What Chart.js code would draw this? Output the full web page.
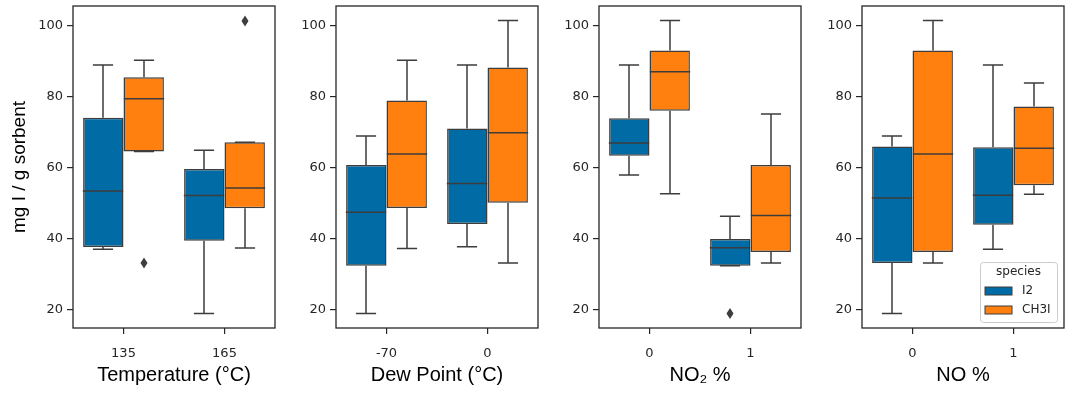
<!DOCTYPE html>
<html>
<head>
<meta charset="utf-8">
<script src="https://cdn.jsdelivr.net/npm/chart.js@4.4.0/dist/chart.umd.min.js"></script>
<style>
  html, body { margin: 0; padding: 0; background: #fff; }
  #wrap { position: relative; width: 1072px; height: 393px; overflow: hidden; }
  .panel { position: absolute; top: 0; }
</style>
</head>
<body>
<div id="wrap"></div>
<script>
// species (hue) and the four factors
const species = ["I2", "CH3I"];
const factorTitles = ["Temperature (°C)", "Dew Point (°C)", "NO₂ %", "NO %"];
const factorLevels = [["135", "165"], ["-70", "0"], ["0", "1"], ["0", "1"]];

// box stats per panel and level: [lower whisker, q1, median, q3, upper whisker]
const i2Box = [
  [[37.1, 37.7, 53.5, 74.1, 89.0], [19.0, 39.5, 52.2, 59.7, 65.0]],
  [[19.0, 32.4, 47.5, 60.8, 69.0], [37.8, 44.2, 55.6, 71.1, 89.0]],
  [[58.0, 63.4, 67.0, 74.0, 89.0], [32.4, 32.4, 37.5, 40.0, 46.4]],
  [[19.0, 33.2, 51.5, 66.0, 69.0], [37.1, 44.0, 52.3, 65.8, 89.0]]
];
const ch3iBox = [
  [[64.6, 64.6, 79.5, 85.5, 90.3], [37.4, 48.6, 54.3, 67.2, 67.2]],
  [[37.3, 48.7, 63.9, 79.0, 90.3], [33.2, 50.2, 69.9, 88.3, 101.5]],
  [[52.7, 76.1, 87.1, 93.1, 101.5], [33.2, 36.3, 46.6, 60.8, 75.2]],
  [[33.2, 36.3, 63.9, 93.1, 101.5], [52.6, 55.1, 65.5, 77.3, 83.9]]
];
// fliers per panel and level
const i2Fliers = [[[], []], [[], []], [[], [19.0]], [[], []]];
const ch3iFliers = [[[33.2], [101.4]], [[], []], [[], []], [[], []]];

const yTicks = [20, 40, 60, 80, 100];
const yMin = 14.9, yMax = 105.6;

const colors = ["#006BA4", "#FF800E"];
const edge = "#3d3d3d";
const ink = "#262626";
const tickFont = { family: "DejaVu Sans", size: 13 };
const titleFont = { family: "Liberation Sans", size: 20 };

// boxes are floating bars, whiskers / medians / fliers drawn on top with the y scale
const boxParts = {
  id: "boxParts",
  afterDatasetsDraw(chart) {
    const ctx = chart.ctx, y = chart.scales.y;
    ctx.save();
    ctx.strokeStyle = edge;
    ctx.fillStyle = edge;
    ctx.lineWidth = 1.5;
    chart.data.datasets.forEach((ds, di) => {
      chart.getDatasetMeta(di).data.forEach((bar, j) => {
        const [lo, q1, med, q3, hi] = ds.stats[j];
        const x = Math.round(bar.x), w = bar.width;
        ctx.beginPath();
        ctx.moveTo(x, y.getPixelForValue(q3)); ctx.lineTo(x, y.getPixelForValue(hi));
        ctx.moveTo(x, y.getPixelForValue(q1)); ctx.lineTo(x, y.getPixelForValue(lo));
        ctx.moveTo(x - w / 4, y.getPixelForValue(hi)); ctx.lineTo(x + w / 4, y.getPixelForValue(hi));
        ctx.moveTo(x - w / 4, y.getPixelForValue(lo)); ctx.lineTo(x + w / 4, y.getPixelForValue(lo));
        ctx.moveTo(x - w / 2, y.getPixelForValue(med)); ctx.lineTo(x + w / 2, y.getPixelForValue(med));
        ctx.stroke();
        ds.fliers[j].forEach(v => {
          const py = y.getPixelForValue(v);
          ctx.beginPath();
          ctx.moveTo(x, py - 5.5); ctx.lineTo(x + 3.5, py);
          ctx.lineTo(x, py + 5.5); ctx.lineTo(x - 3.5, py);
          ctx.closePath();
          ctx.fill();
        });
      });
    });
    ctx.restore();
  },
  afterDraw(chart) {
    const ctx = chart.ctx, a = chart.chartArea;
    ctx.save();
    ctx.strokeStyle = ink;
    ctx.lineWidth = 1.3;
    ctx.strokeRect(a.left, a.top, a.right - a.left, a.bottom - a.top);
    if (chart.options.plugins.boxParts.legend) {
      const bw = 77, bh = 60;
      const lx = a.right - 7 - bw, ly = a.bottom - 6 - bh;
      ctx.fillStyle = "rgba(255,255,255,0.8)";
      ctx.strokeStyle = "#cccccc";
      ctx.lineWidth = 1;
      ctx.beginPath();
      ctx.roundRect(lx + 0.5, ly + 0.5, bw, bh, 3);
      ctx.fill(); ctx.stroke();
      ctx.fillStyle = ink;
      ctx.font = "12px 'DejaVu Sans'";
      ctx.textAlign = "center";
      ctx.textBaseline = "middle";
      ctx.fillText("species", lx + bw / 2, ly + 10);
      ctx.textAlign = "left";
      species.forEach((s, i) => {
        const ey = ly + 29 + i * 19;
        ctx.fillStyle = colors[i];
        ctx.fillRect(lx + 5, ey - 4, 27, 8);
        ctx.strokeStyle = edge;
        ctx.strokeRect(lx + 5, ey - 4, 27, 8);
        ctx.fillStyle = ink;
        ctx.fillText(s, lx + 42, ey);
      });
    }
    ctx.restore();
  }
};

const panelLeft = [73, 336, 599, 862];
const panelWidth = 202;
const wrap = document.getElementById("wrap");

factorTitles.forEach((title, p) => {
  const axisW = p === 0 ? 73 : 60;
  const left = panelLeft[p] - axisW;
  const div = document.createElement("div");
  div.className = "panel";
  div.style.left = left + "px";
  const canvas = document.createElement("canvas");
  canvas.width = axisW + panelWidth + 5;
  canvas.height = 393;
  div.appendChild(canvas);
  wrap.appendChild(div);

  new Chart(canvas, {
    type: "bar",
    data: {
      labels: factorLevels[p],
      datasets: [
        { label: species[0], data: i2Box[p].map(s => [s[1], s[3]]), stats: i2Box[p], fliers: i2Fliers[p],
          backgroundColor: colors[0] },
        { label: species[1], data: ch3iBox[p].map(s => [s[1], s[3]]), stats: ch3iBox[p], fliers: ch3iFliers[p],
          backgroundColor: colors[1] }
      ]
    },
    options: {
      responsive: false,
      animation: false,
      events: [],
      layout: { padding: { top: 6, right: 5, left: 0, bottom: 0 } },
      datasets: {
        bar: { categoryPercentage: 0.8, barPercentage: 1.0, borderColor: edge, borderWidth: 1.5, borderSkipped: false }
      },
      plugins: {
        legend: { display: false },
        tooltip: { enabled: false },
        boxParts: { legend: p === 3 }
      },
      scales: {
        x: {
          grid: { offset: false, drawOnChartArea: false, drawTicks: true, tickLength: 6, color: ink, lineWidth: 1.2 },
          border: { display: false },
          ticks: { font: tickFont, color: ink, padding: 12, maxRotation: 0 },
          title: { display: true, text: title, font: titleFont, color: "#000", padding: { top: 0, bottom: 6 } },
          afterFit: s => { s.height = 65; s.paddingLeft = 0; s.paddingRight = 0; }
        },
        y: {
          min: yMin, max: yMax,
          grid: { drawOnChartArea: false, drawTicks: true, tickLength: 6, color: ink, lineWidth: 1.2 },
          border: { display: false },
          ticks: { font: tickFont, color: ink, padding: 4 },
          afterBuildTicks: s => { s.ticks = yTicks.map(v => ({ value: v })); },
          title: { display: p === 0, text: "mg I / g sorbent", font: { family: "Liberation Sans", size: 19 }, color: "#000", padding: { top: 8, bottom: 0 } },
          afterFit: s => { s.width = axisW; s.paddingTop = 0; s.paddingBottom = 0; }
        }
      }
    },
    plugins: [boxParts]
  });
});
</script>
</body>
</html>
